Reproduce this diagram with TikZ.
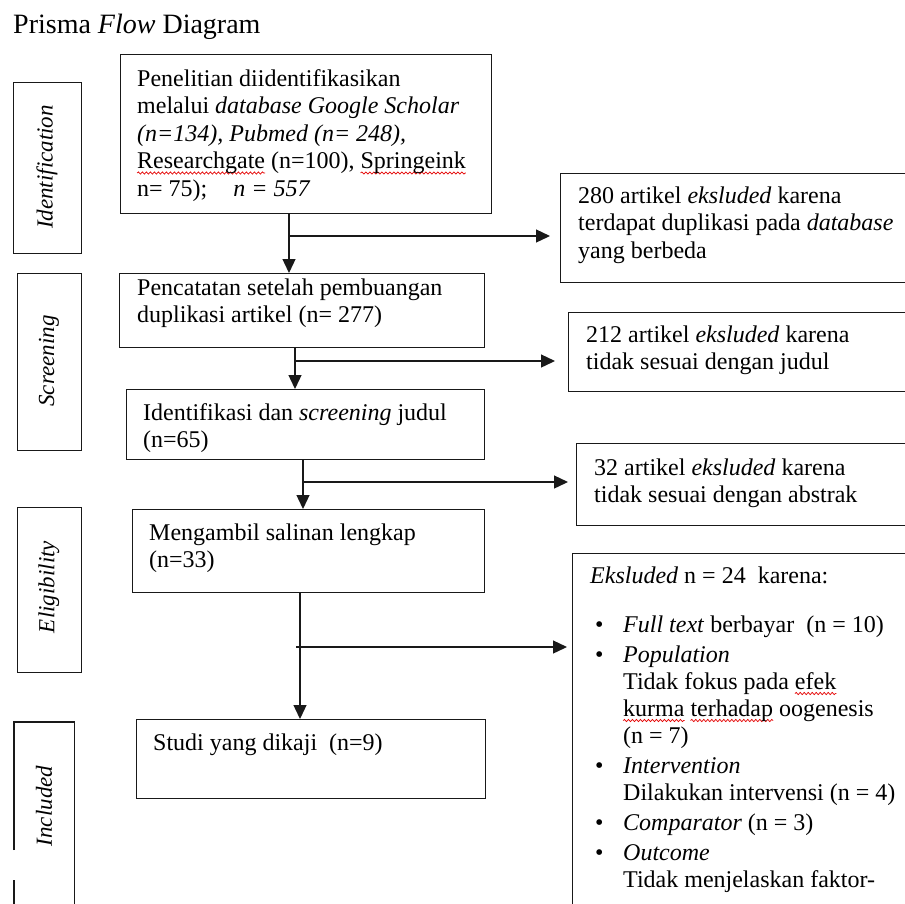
\documentclass[tikz,border=0pt]{standalone}
\usepackage{fontspec}
\setmainfont{Liberation Serif}
\usetikzlibrary{arrows.meta,decorations.pathmorphing}
\newsavebox\sqbox
\newcommand\sqg[1]{\sbox\sqbox{#1}\rlap{\tikz[overlay]\draw[red!90!black,line width=0.7pt,decorate,decoration={snake,amplitude=1.1pt,segment length=4pt}] (0pt,-4.5pt)--(\wd\sqbox,-4.5pt);}\usebox\sqbox}
\newcommand\bodyf{\fontsize{24}{27.5}\selectfont}
\newcommand\bul{\hspace*{5pt}\makebox[28pt][l]{\textbullet}}
\newcommand\ind{\hspace*{33pt}}
\begin{document}
\begin{tikzpicture}[x=1pt,y=-1pt,
  box/.style={draw=black!90, line width=1.3pt, inner sep=0pt, anchor=north west},
  txt/.style={anchor=base west, inner sep=0pt, align=left, font=\bodyf},
  lab/.style={rotate=90, inner sep=0pt, font=\fontsize{23}{26}\selectfont\itshape},
  arr/.style={draw=black!90, line width=1.3pt, -{Triangle[length=14pt,width=13pt]}}]
\useasboundingbox (0,0) rectangle (905,903);
\clip (0,0) rectangle (905,903);
\fill[white] (0,0) rectangle (905,903);

\node[anchor=base west, inner sep=0pt, font=\fontsize{28}{32}\selectfont] (title) at (13,33) {Prisma \textit{Flow} Diagram};

% stage label boxes
\node[box, minimum width=68pt, minimum height=171pt] (l1) at (13,82) {};
\node[box, minimum width=64pt, minimum height=177pt] (l2) at (17,273) {};
\node[box, minimum width=64pt, minimum height=165pt] (l3) at (17,507) {};
\node[inner sep=0pt, anchor=north west, minimum width=60pt, minimum height=200pt] (l4) at (14,722) {};
\draw[draw=black!90, line width=1.3pt] (l4.west |- 0,850) -- (l4.north west) -- (l4.north east) -- (l4.south east);
\draw[draw=black!90, line width=1.3pt] (l4.west |- 0,880) -- (l4.south west);
\node[lab] (t1) at (47,167) {Identification};
\node[lab] (t2) at (49,361) {Screening};
\node[lab] (t3) at (49,587) {Eligibility};
\node[lab] (t4) at (44,806) {Included};

% main boxes
\node[box, minimum width=371pt, minimum height=159pt] (b1) at (120,54) {};
\node[box, minimum width=365pt, minimum height=74pt] (b2) at (119,273) {};
\node[box, minimum width=358pt, minimum height=70pt] (b3) at (126,389) {};
\node[box, minimum width=352pt, minimum height=83pt] (b4) at (132,509) {};
\node[box, minimum width=349pt, minimum height=79pt] (b5) at (136,719) {};

% exclusion boxes
\node[box, minimum width=360pt, minimum height=109pt] (exA) at (560,173) {};
\node[box, minimum width=360pt, minimum height=79pt] (exB) at (568,312) {};
\node[box, minimum width=360pt, minimum height=82pt] (exC) at (576,443) {};
\node[box, minimum width=360pt, minimum height=400pt] (exD) at (572,553) {};

% texts (anchor = baseline of the last line)
\node[txt] (tb1) at (137,196) {Penelitian diidentifikasikan\\ melalui \textit{database Google Scholar}\\ \textit{(n=134), Pubmed (n= 248),}\\ \sqg{Researchgate} (n=100), \sqg{Springeink}\\ n= 75);\hspace{26pt}\textit{n = 557}};
\node[txt] (tb2) at (137,322.5) {Pencatatan setelah pembuangan\\ duplikasi artikel (n= 277)};
\node[txt] (tb3) at (143,447.5) {Identifikasi dan \textit{screening} judul\\ (n=65)};
\node[txt] (tb4) at (149,567.5) {Mengambil salinan lengkap\\ (n=33)};
\node[txt] (tb5) at (153,750) {Studi yang dikaji\ \ (n=9)};
\node[txt] (tA) at (578,258) {280 artikel \textit{eksluded} karena\\ terdapat duplikasi pada \textit{database}\\ yang berbeda};
\node[txt] (tB) at (586,369.5) {212 artikel \textit{eksluded} karena\\ tidak sesuai dengan judul};
\node[txt] (tC) at (594,502.5) {32 artikel \textit{eksluded} karena\\ tidak sesuai dengan abstrak};
\node[txt, font=\fontsize{24}{27}\selectfont] (tD) at (590,887) {\textit{Eksluded} n = 24\ \ karena:\\[22pt]
\bul\textit{Full text} berbayar\ \ (n = 10)\\[3pt]
\bul\textit{Population}\\
\ind Tidak fokus pada \sqg{efek}\\
\ind\sqg{kurma} \sqg{terhadap} oogenesis\\
\ind(n = 7)\\[3pt]
\bul\textit{Intervention}\\
\ind Dilakukan intervensi (n = 4)\\[3pt]
\bul\textit{Comparator} (n = 3)\\[3pt]
\bul\textit{Outcome}\\
\ind Tidak menjelaskan faktor-};

% connectors
\coordinate (j1) at (289,236);
\coordinate (j2) at (295,361);
\coordinate (j3) at (303,482);
\coordinate (j4) at (300,647);
\draw[arr] (b1.south -| j1) -- (b2.north -| j1);
\draw[arr, shorten >=10pt] (j1) -- (exA.west |- j1);
\draw[arr] (b2.south -| j2) -- (b3.north -| j2);
\draw[arr, shorten >=13pt] (j2) -- (exB.west |- j2);
\draw[arr] (b3.south -| j3) -- (b4.north -| j3);
\draw[arr, shorten >=8pt] (j3) -- (exC.west |- j3);
\draw[arr] (b4.south -| j4) -- (b5.north -| j4);
\draw[arr, shorten >=5pt] ([xshift=-4pt]j4) -- (exD.west |- j4);
\end{tikzpicture}
\end{document}
